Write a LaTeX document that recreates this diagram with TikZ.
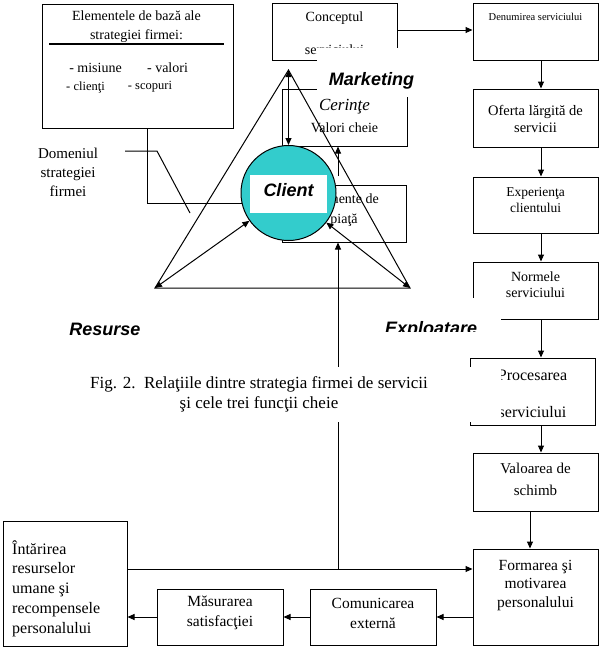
\documentclass[tikz,border=0pt]{standalone}
\usepackage{fontspec}
\setmainfont{Liberation Serif}
\newfontfamily\arialf{Liberation Sans}
\usetikzlibrary{arrows.meta}
\definecolor{clTeal}{HTML}{33CCCC}
\newcommand\fsz[2]{\fontsize{#1}{#2}\selectfont}

\begin{document}
\begin{tikzpicture}[x=1pt,y=-1pt,
  box/.style={draw,line width=1pt,inner sep=0pt},
  lbl/.style={inner sep=0pt,align=center},
  heavy/.style={inner sep=0pt,font=\arialf\bfseries\itshape\fsz{18}{22}},
  ar/.style={-{Triangle[length=7pt,width=6pt]},line width=1pt},
  dar/.style={{Triangle[length=7pt,width=6pt]}-{Triangle[length=7pt,width=6pt]},line width=1pt},
  thin/.style={line width=1pt}]
\useasboundingbox (0,0) rectangle (601,649);

% strategy box
\node[box,minimum width=191,minimum height=124] (elem) at (137.5,66) {};
\node[lbl,font=\fsz{14}{19}] (elemt) at (136.5,26.5) {Elementele de bază ale\\strategiei firmei:};
\draw[line width=2.5pt] (49,44) -- (224,44);
\node[lbl,font=\fsz{14}{16}] (mis) at (95.5,68) {- misiune};
\node[lbl,font=\fsz{14}{16}] (vlr) at (167.5,68) {- valori};
\node[lbl,font=\fsz{12.5}{15}] (cli) at (85.5,87) {- clienţi};
\node[lbl,font=\fsz{12.5}{15}] (scp) at (150,87) {- scopuri};
\node[lbl,font=\fsz{15}{19}] (dom) at (68,172) {Domeniul\\strategiei\\firmei};

% centre boxes
\node[box,minimum width=125,minimum height=57] (conc) at (334.5,31.5) {};
\node[lbl,font=\fsz{14}{33}] (conct) at (334.5,33.5) {Conceptul\\serviciului};
\node[box,minimum width=125,minimum height=57] (cer) at (344.5,117.5) {};
\node[lbl,font=\itshape\fsz{17}{20}] (cert) at (344.5,107) {Cerinţe};
\node[lbl,font=\fsz{14}{16}] (valt) at (344.5,128) {Valori cheie};
\node[box,minimum width=124,minimum height=57] (pia) at (344,213.5) {};
\node[lbl,font=\fsz{14}{20}] (piat) at (344,210) {Elemente de\\piaţă};

% right column
\node[box,minimum width=125,minimum height=57] (den) at (535.5,31.5) {};
\node[lbl,font=\fsz{10.5}{12}] (dent) at (535.5,17) {Denumirea serviciului};
\node[box,minimum width=125,minimum height=58] (ofe) at (535.5,118) {};
\node[lbl,font=\fsz{14.5}{17}] (ofet) at (535.5,118.5) {Oferta lărgită de\\servicii};
\node[box,minimum width=125,minimum height=56] (exp) at (535.5,205) {};
\node[lbl,font=\fsz{13.5}{16}] (expt) at (535.5,200) {Experienţa\\clientului};
\node[box,minimum width=125,minimum height=57] (nor) at (535.5,290.5) {};
\node[lbl,font=\fsz{14}{16}] (nort) at (535.5,285) {Normele\\serviciului};
\node[box,minimum width=125,minimum height=67] (pro) at (532.5,391.5) {};
\node[lbl,font=\fsz{16}{37}] (prot) at (532.5,393.5) {Procesarea\\serviciului};
\node[box,minimum width=125,minimum height=58] (val) at (535.5,482) {};
\node[lbl,font=\fsz{15}{22}] (valo) at (535.5,479) {Valoarea de\\schimb};

% bottom row
\node[box,minimum width=125,minimum height=96] (form) at (535.5,597) {};
\node[lbl,font=\fsz{15.5}{18.5}] (formt) at (535.5,585.5) {Formarea şi\\motivarea\\personalului};
\node[box,minimum width=126,minimum height=56] (comu) at (373,617) {};
\node[lbl,font=\fsz{15.5}{20}] (comut) at (373,613) {Comunicarea\\externă};
\node[box,minimum width=126,minimum height=56] (masu) at (220,617) {};
\node[lbl,font=\fsz{15.5}{20}] (masut) at (220,613) {Măsurarea\\satisfacţiei};
\node[box,minimum width=124,minimum height=125] (inta) at (65,583.5) {};
\node[lbl,align=left,anchor=west,font=\fsz{16}{19.75}] (intat) at (12,588.5)
  {Întărirea\\resurselor\\umane şi\\recompensele\\personalului};

% client
\node[circle,draw,line width=1pt,fill=clTeal,minimum size=95,inner sep=0pt] (cl) at (288.5,193) {};
\node[heavy,fill=white,minimum width=77,minimum height=38,text height=13,text depth=8] (clt) at (288.5,194) {Client};

% triangle and links
\coordinate (apex) at (288.5,70);
\coordinate (bl) at (155,288);
\coordinate (br) at (410,288);
\draw[thin] (apex) -- (bl) -- (br) -- cycle;
\draw[dar] (cl) -- (bl);
\draw[dar] (cl) -- (br);
\draw[dar] (apex) -- (cl.north);
\coordinate (tap) at (338,176);
\draw[ar] (tap) -- (tap |- cer.south);
\coordinate (jn) at (338,569);
\draw[ar] (jn) -- (jn |- pia.south);
\draw[ar] (inta.east |- jn) -- (form.west |- jn);
\draw[ar] (conc.east |- 0,30) -- (den.west |- 0,30);
\coordinate (rail) at (541,0);
\foreach \a/\b in {den/ofe,ofe/exp,exp/nor,nor/pro,pro/val}
  \draw[ar] (\a.south -| rail) -- (\b.north -| rail);
\draw[ar] (val.south -| 530,0) -- (form.north -| 530,0);
\coordinate (row) at (0,617);
\foreach \a/\b in {form/comu,comu/masu,masu/inta}
  \draw[ar] (\a.west |- row) -- (\b.east |- row);
\draw[thin] (elem.south -| 147,0) |- (cl.193);
\draw[thin] (125,151) -- (157,151) -- (190,213);

% labels over white
\fill[white] (317,48) rectangle (418,97);
\node[heavy,anchor=base] (mkt) at (371.5,85.5) {Marketing};
\node[heavy,anchor=base] (res) at (105,335) {Resurse};
\begin{scope}
  \clip (383,298) rectangle (501,331);
  \fill[white] (383,298) rectangle (501,331);
  \node[heavy,anchor=base west] (expl) at (385,334) {Exploatare};
\end{scope}
\fill[white] (80,367) rectangle (501,422);
\node[lbl,font=\fsz{17}{20}] (fig) at (259,394)
  {Fig. 2.\ \ Relaţiile dintre strategia firmei de servicii\\şi cele trei funcţii cheie};
\end{tikzpicture}
\end{document}
